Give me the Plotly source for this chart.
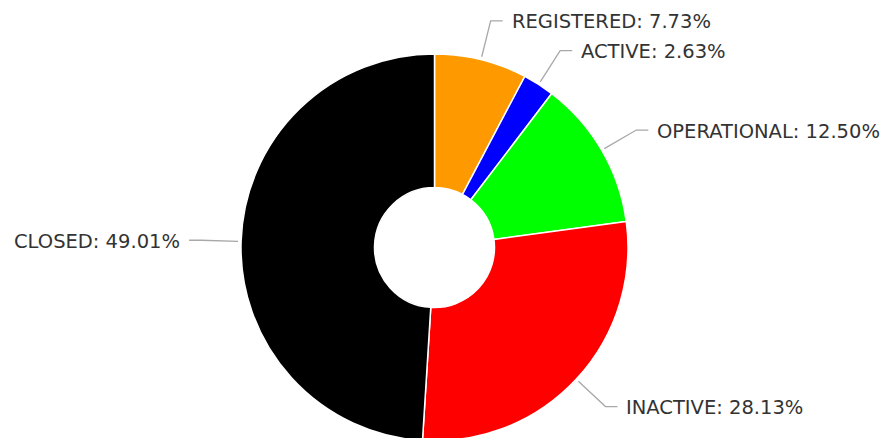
import math
import plotly.graph_objects as go

# ---- data ----
labels = ["REGISTERED", "ACTIVE", "OPERATIONAL", "INACTIVE", "CLOSED"]
values = [7.73, 2.63, 12.50, 28.13, 49.01]
colors = ["#FF9900", "#0000FF", "#00FF00", "#FF0000", "#000000"]

# ---- layout geometry (screen pixels, page has an 8px body margin) ----
PAGE_OFF = 8
W, H = 893 - PAGE_OFF, 433
CX_S, CY_S, R_PX = 434.5, 247.5, 193.5     # pie centre / radius on screen
CX_F, CY_F = CX_S - PAGE_OFF, CY_S - PAGE_OFF  # in figure pixels

DOM_Y = [(H - CY_F - R_PX) / H, (H - CY_F + R_PX) / H]
DOM_Y = [max(0.0, DOM_Y[0]), min(1.0, DOM_Y[1])]
HALF_X = 215
DOM_X = [(CX_F - HALF_X) / W, (CX_F + HALF_X) / W]

START_OFF = 3
BEND_OFF = 40
HSEG = 12
GAP = 7
FONT = dict(family="DejaVu Sans, Verdana, sans-serif", size=19.5, color="#333333")
LINE_COLOR = "#A8A8A8"

fig = go.Figure(
    go.Pie(
        labels=labels,
        values=values,
        marker=dict(colors=colors, line=dict(color="#FFFFFF", width=1.5)),
        hole=0.31,
        sort=False,
        direction="clockwise",
        rotation=0,
        textinfo="none",
        hoverinfo="skip",
        domain=dict(x=DOM_X, y=DOM_Y),
        showlegend=False,
    )
)


def to_paper(px, py):
    return px / W, 1 - py / H


total = sum(values)
cum = 0.0
shapes = []
annotations = []
for lab, val in zip(labels, values):
    mid = (cum + val / 2) / total * 2 * math.pi  # clockwise from top
    cum += val
    sx, sy = math.sin(mid), -math.cos(mid)
    ax_, ay_ = CX_F + (R_PX + START_OFF) * sx, CY_F + (R_PX + START_OFF) * sy
    bx, by = CX_F + (R_PX + BEND_OFF) * sx, CY_F + (R_PX + BEND_OFF) * sy
    right = sx >= 0
    cx_ = bx + (HSEG if right else -HSEG)
    tx = cx_ + (GAP if right else -GAP)
    pa = to_paper(ax_, ay_)
    pb = to_paper(bx, by)
    pc = to_paper(cx_, by)
    path = f"M {pa[0]},{pa[1]} L {pb[0]},{pb[1]} L {pc[0]},{pc[1]}"
    shapes.append(dict(type="path", path=path, xref="paper", yref="paper",
                       line=dict(color=LINE_COLOR, width=1.3)))
    pt = to_paper(tx, by)
    pct = val / total * 100
    annotations.append(dict(
        x=pt[0], y=pt[1], xref="paper", yref="paper",
        text=f"{lab}: {pct:.2f}%", showarrow=False,
        xanchor="left" if right else "right", yanchor="middle",
        yshift=-1, font=FONT,
    ))

fig.update_layout(
    width=W, height=H,
    margin=dict(l=0, r=0, t=0, b=0),
    paper_bgcolor="#FFFFFF",
    plot_bgcolor="#FFFFFF",
    shapes=shapes,
    annotations=annotations,
)

fig.write_html("out.html")
